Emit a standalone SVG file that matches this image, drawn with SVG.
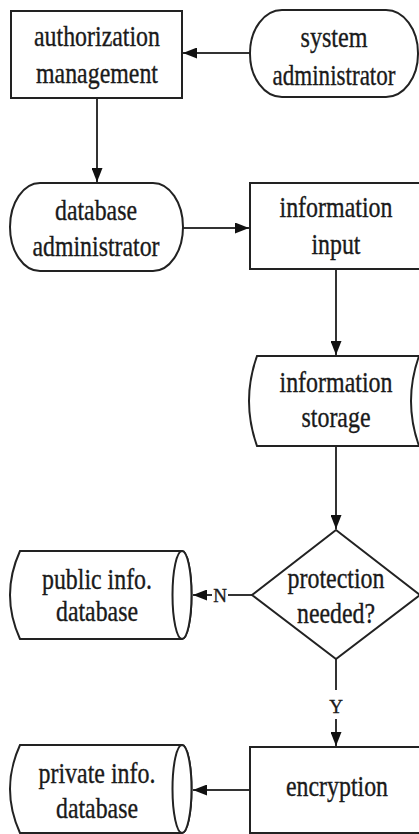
<svg xmlns="http://www.w3.org/2000/svg" width="419" height="834" viewBox="0 0 419 834">
<style>
.s{fill:#fff;stroke:#222;stroke-width:2}
.c{fill:none;stroke:#333;stroke-width:2}
text{font-family:'Liberation Serif','Times New Roman',Times,serif;fill:#1a1a1a;stroke:#1a1a1a;stroke-width:0.35;text-anchor:middle}
.t{font-size:29px}
.l{font-size:19px}
</style>
<defs>
<marker id="ah" markerUnits="userSpaceOnUse" markerWidth="14" markerHeight="11" refX="14" refY="5.5" orient="auto">
<path d="M0,0 L14,5.5 L0,11 z" fill="#111"/>
</marker>
</defs>
<rect width="419" height="834" fill="#fff"/>
<g id="connectors">
<line class="c" x1="250" y1="53" x2="183" y2="53" marker-end="url(#ah)"/>
<line class="c" x1="97" y1="98" x2="97" y2="182" marker-end="url(#ah)"/>
<line class="c" x1="183" y1="228" x2="249" y2="228" marker-end="url(#ah)"/>
<line class="c" x1="336" y1="269" x2="336" y2="355" marker-end="url(#ah)"/>
<line class="c" x1="336" y1="446" x2="336" y2="529" marker-end="url(#ah)"/>
<line class="c" x1="252" y1="595" x2="228" y2="595"/>
<line class="c" x1="212" y1="595" x2="193" y2="595" marker-end="url(#ah)"/>
<text class="l" x="220" y="602">N</text>
<line class="c" x1="336" y1="659" x2="336" y2="690"/>
<text class="l" x="336" y="713">Y</text>
<line class="c" x1="336" y1="719" x2="336" y2="746" marker-end="url(#ah)"/>
<line class="c" x1="250" y1="790" x2="193" y2="790" marker-end="url(#ah)"/>
</g>
<g id="authorization-management">
<rect class="s" x="11" y="11" width="171" height="87"/>
<text class="t" x="97" y="46" textLength="126" lengthAdjust="spacingAndGlyphs">authorization</text>
<text class="t" x="97" y="83" textLength="122" lengthAdjust="spacingAndGlyphs">management</text>
</g>
<g id="system-administrator">
<rect class="s" x="250" y="10" width="168" height="87" rx="32" ry="43"/>
<text class="t" x="334" y="47" textLength="67" lengthAdjust="spacingAndGlyphs">system</text>
<text class="t" x="334" y="85" textLength="123" lengthAdjust="spacingAndGlyphs">administrator</text>
</g>
<g id="database-administrator">
<rect class="s" x="10" y="183" width="173" height="88" rx="30" ry="44"/>
<text class="t" x="96" y="220" textLength="82" lengthAdjust="spacingAndGlyphs">database</text>
<text class="t" x="96" y="256" textLength="127" lengthAdjust="spacingAndGlyphs">administrator</text>
</g>
<g id="information-input">
<rect class="s" x="250" y="183" width="175" height="86"/>
<text class="t" x="336" y="217" textLength="113" lengthAdjust="spacingAndGlyphs">information</text>
<text class="t" x="336" y="254" textLength="49" lengthAdjust="spacingAndGlyphs">input</text>
</g>
<g id="information-storage">
<path class="s" d="M257,356 L425,356 L425,446 L257,446 Q241,401 257,356 Z"/>
<path class="s" d="M419,356 Q403,401 419,446" fill="none"/>
<text class="t" x="336" y="392" textLength="113" lengthAdjust="spacingAndGlyphs">information</text>
<text class="t" x="336" y="427" textLength="69" lengthAdjust="spacingAndGlyphs">storage</text>
</g>
<g id="protection-needed">
<polygon class="s" points="336,530 420,595 336,659 252,595"/>
<text class="t" x="336" y="588" textLength="97" lengthAdjust="spacingAndGlyphs">protection</text>
<text class="t" x="336" y="623" textLength="78" lengthAdjust="spacingAndGlyphs">needed?</text>
</g>
<g id="public-info-database">
<path class="s" d="M20,551 L182,551 A9.5,44 0 0 1 182,639 L20,639 Q0,595 20,551 Z"/>
<ellipse class="s" cx="182" cy="595" rx="9.5" ry="44" fill="none"/>
<text class="t" x="97" y="589" textLength="110" lengthAdjust="spacingAndGlyphs">public info.</text>
<text class="t" x="97" y="621" textLength="82" lengthAdjust="spacingAndGlyphs">database</text>
</g>
<g id="encryption">
<rect class="s" x="250" y="747" width="175" height="86"/>
<text class="t" x="337" y="796" textLength="102" lengthAdjust="spacingAndGlyphs">encryption</text>
</g>
<g id="private-info-database">
<path class="s" d="M20,745 L182,745 A9.5,44 0 0 1 182,833 L20,833 Q0,789 20,745 Z"/>
<ellipse class="s" cx="182" cy="789" rx="9.5" ry="44" fill="none"/>
<text class="t" x="97" y="783" textLength="117" lengthAdjust="spacingAndGlyphs">private info.</text>
<text class="t" x="97" y="818" textLength="82" lengthAdjust="spacingAndGlyphs">database</text>
</g>
</svg>
